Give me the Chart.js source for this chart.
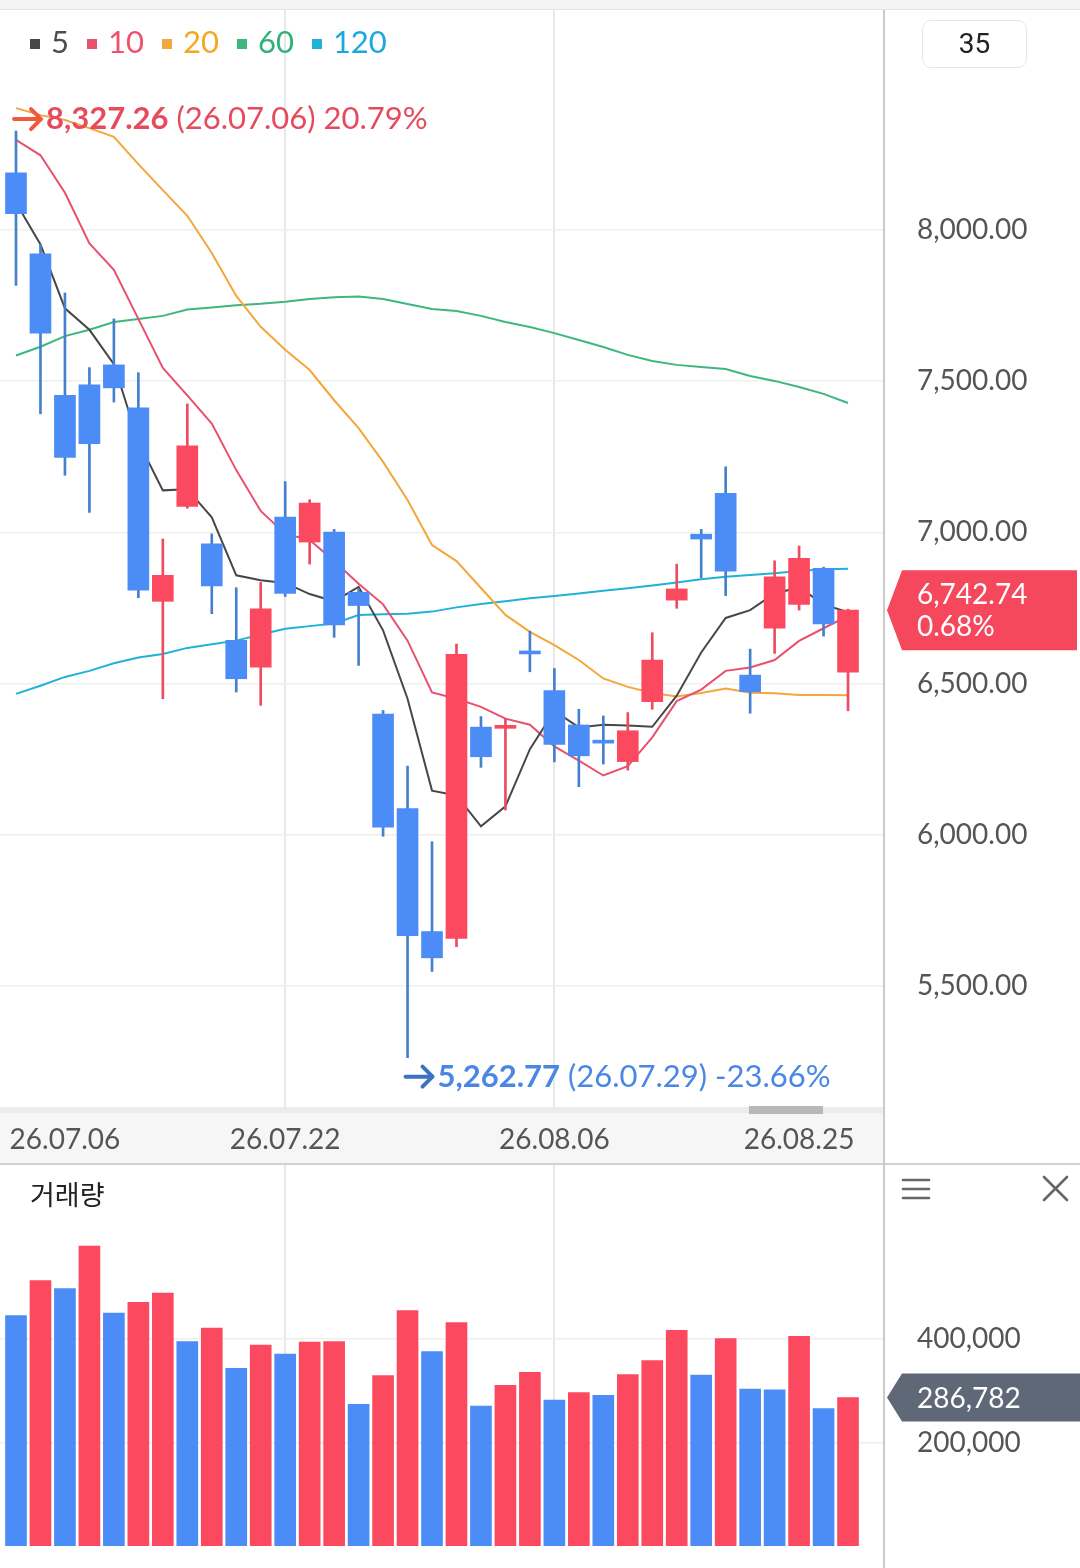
<!DOCTYPE html>
<html>
<head>
<meta charset="utf-8">
<script src="https://cdn.jsdelivr.net/npm/chart.js@4"></script>
<style>
  html, body { margin: 0; padding: 0; background: #fff; }
  body { width: 1080px; height: 1568px; position: relative; overflow: hidden; font-family: Lato, sans-serif; }
  .abs { position: absolute; }
  #topbar { left: 0; top: 0; width: 1080px; height: 9px; background: #f4f4f4; border-bottom: 1px solid #e4e4e4; }
  #track { left: 0; top: 1107px; width: 884px; height: 6px; background: #ececec; }
  #xband { left: 0; top: 1113px; width: 884px; height: 50px; background: #f6f6f6; }
  #thumb { left: 749px; top: 1106px; width: 74px; height: 8px; background: #b8b8b8; z-index: 3; }
  #hsep { left: 0; top: 1163px; width: 1080px; height: 2px; background: #d2d2d2; z-index: 3; }
  #vsep { left: 883px; top: 10px; width: 2px; height: 1558px; background: #cbcbcb; z-index: 3; }
  canvas { position: absolute; left: 0; z-index: 2; }
  #priceCanvas { top: 10px; }
  #volCanvas { top: 1165px; }
  #legend { left: 30px; top: 21px; font-size: 31px; line-height: 40px; white-space: nowrap; z-index: 4; }
  #legend span.item { margin-right: 18px; }
  #legend span.sq { display: inline-block; width: 10px; height: 10px; margin-right: 11px; vertical-align: 4px; }
  #period { left: 922px; top: 20px; width: 103px; height: 46px; border: 1.5px solid #e6e6e6; border-radius: 9px;
            font: 28px Roboto, sans-serif; color: #222; text-align: center; line-height: 46px; z-index: 4; }
  #volTitle { left: 30px; top: 1174px; font: 27px 'Noto Sans CJK KR', sans-serif; color: #222; z-index: 4; }
  #icons { left: 884px; top: 1165px; z-index: 4; }
</style>
</head>
<body>
<div id="topbar" class="abs"></div>
<div id="track" class="abs"></div>
<div id="xband" class="abs"></div>
<div id="thumb" class="abs"></div>
<div id="hsep" class="abs"></div>
<div id="vsep" class="abs"></div>
<div id="legend" class="abs"></div>
<div id="period" class="abs"></div>
<div id="volTitle" class="abs">거래량</div>
<svg id="icons" class="abs" width="196" height="50">
  <g stroke="#666" stroke-width="2.6" stroke-linecap="round">
    <line x1="19" y1="15" x2="45" y2="15"/>
    <line x1="19" y1="24" x2="45" y2="24"/>
    <line x1="19" y1="33" x2="45" y2="33"/>
    <line x1="160" y1="12" x2="183" y2="35"/>
    <line x1="183" y1="12" x2="160" y2="35"/>
  </g>
</svg>
<canvas id="priceCanvas" width="1080" height="1153"></canvas>
<canvas id="volCanvas" width="1080" height="403"></canvas>

<script>
// ---- data ----
const opens  = [8189, 7921, 7453, 7488, 7554, 7412, 6772, 7086, 6962, 6643, 6554, 7051, 6968, 7001, 6802, 6399, 6087, 5680,
                5657, 6356, 6352, 6604, 6477, 6363, 6307, 6242, 6440, 6776, 6994, 7129, 6528, 6683, 6762, 6881, 6538];
const highs  = [8327.26, 7952, 7792, 7545, 7706, 7528, 6978, 7425, 6995, 6817, 6835, 7168, 7108, 7010, 6813, 6411, 6227, 5977,
                6631, 6391, 6384, 6673, 6550, 6415, 6393, 6404, 6668, 6895, 7010, 7217, 6614, 6906, 6955, 6885, 6746];
const lows   = [7817, 7392, 7189, 7066, 7431, 6784, 6450, 7080, 6731, 6472, 6428, 6788, 6895, 6653, 6560, 5995, 5262.77, 5548,
                5630, 6223, 6082, 6539, 6241, 6159, 6234, 6214, 6415, 6749, 6850, 6791, 6402, 6600, 6743, 6657, 6410];
const closes = [8054, 7659, 7248, 7293, 7478, 6809, 6858, 7286, 6823, 6516, 6747, 6798, 7097, 6694, 6758, 6025, 5666, 5593,
                6597, 6258, 6360, 6598, 6299, 6261, 6303, 6344, 6578, 6813, 6978, 6872, 6473, 6853, 6914, 6697.2, 6742.74];

const volumes = [445000, 512700, 497200, 579700, 450200, 470900, 488900, 394800, 421300, 343400, 388400, 371000, 394200,
                 395000, 273800, 329100, 454700, 375500, 431500, 270500, 310500, 335600, 282100, 296300, 291200, 331000,
                 358100, 416800, 330400, 400600, 303400, 302000, 405200, 265300, 286782];

const ma5   = [8090, 7952, 7741, 7670, 7556, 7300, 7139, 7143, 7050, 6858, 6842, 6833, 6796, 6772, 6820, 6676, 6450, 6146,
               6130, 6028, 6094, 6283, 6410, 6355, 6364, 6361, 6357, 6460, 6603, 6717, 6743, 6798, 6818, 6762, 6736];
const ma10  = [8298, 8247, 8123, 7956, 7868, 7706, 7544, 7453, 7360, 7206, 7071, 6995, 6975, 6905, 6830, 6762, 6642, 6471,
               6450, 6423, 6384, 6364, 6292, 6245, 6196, 6227, 6322, 6442, 6480, 6542, 6553, 6578, 6641, 6683, 6724];
const ma20  = [8403, 8380, 8364, 8337, 8308, 8218, 8132, 8047, 7924, 7782, 7680, 7604, 7537, 7437, 7345, 7233, 7107, 6958,
               6905, 6816, 6727, 6671, 6627, 6578, 6517, 6489, 6469, 6457, 6469, 6484, 6470, 6468, 6462, 6462, 6461];
const ma60  = [7585, 7614, 7649, 7670, 7696, 7706, 7716, 7737, 7744, 7751, 7756, 7763, 7772, 7778, 7780, 7772, 7755, 7739,
               7732, 7716, 7696, 7679, 7659, 7636, 7613, 7587, 7567, 7554, 7547, 7540, 7517, 7501, 7481, 7458, 7428];
const ma120 = [6466, 6493, 6522, 6542, 6567, 6586, 6598, 6618, 6630, 6642, 6662, 6681, 6690, 6699, 6727, 6729, 6731, 6738,
               6752, 6763, 6772, 6782, 6790, 6798, 6807, 6815, 6824, 6834, 6845, 6853, 6859, 6865, 6872, 6878, 6880];

const maNames  = ['5', '10', '20', '60', '120'];
const maSeries = [ma5, ma10, ma20, ma60, ma120];
const maColors = ['#474747', '#e9506d', '#f5a63a', '#3db77e', '#1fb2d8'];
const maText   = ['#4d4d4d', '#f0506e', '#f5a623', '#2fb27a', '#1aa9dc'];

const priceTicks  = [5500, 6000, 6500, 7000, 7500, 8000];
const volumeTicks = [200000, 400000];
const xTickIdx    = [2, 11, 22, 32];
const xTickLabels = ['26.07.06', '26.07.22', '26.08.06', '26.08.25'];
const vGridAt     = [11, 22];
const hiNote = '(26.07.06) 20.79%';
const loNote = '(26.07.29) -23.66%';
const periodCount = 35;

// ---- colours ----
const RED = '#fb4a5f', BLUE = '#4b8cf6', RED_WICK = '#ee4a60', BLUE_WICK = '#4580cd';

Chart.defaults.font.family = 'Lato';

// legend and period box
document.getElementById('legend').innerHTML = maNames.map((n, k) =>
  '<span class="item"><span class="sq" style="background:' + maColors[k] + '"></span>' +
  '<span style="color:' + maText[k] + '">' + n + '</span></span>').join('');
document.getElementById('period').textContent = periodCount;

const fmt2 = v => v.toLocaleString('en-US', { minimumFractionDigits: 2, maximumFractionDigits: 2 });
const idx = closes.map((_, i) => i);

function badge(ctx, yc, half, right, color, lines) {
  ctx.save();
  ctx.fillStyle = color;
  ctx.beginPath();
  ctx.moveTo(887, yc);
  ctx.lineTo(902, yc - half);
  ctx.lineTo(right, yc - half);
  ctx.lineTo(right, yc + half);
  ctx.lineTo(902, yc + half);
  ctx.closePath();
  ctx.fill();
  ctx.fillStyle = '#fff';
  ctx.font = '28px Lato';
  ctx.textAlign = 'left';
  ctx.textBaseline = 'middle';
  const lh = 32;
  const y0 = yc + 1 - (lines.length - 1) * lh / 2;
  lines.forEach((t, k) => ctx.fillText(t, 917, y0 + k * lh));
  ctx.restore();
}

function drawNote(ctx, x0, ym, val, note, arrowColor, textColor) {
  ctx.save();
  ctx.strokeStyle = arrowColor;
  ctx.lineWidth = 4;
  ctx.lineCap = 'round';
  ctx.lineJoin = 'round';
  ctx.beginPath();
  ctx.moveTo(x0 + 2, ym);
  ctx.lineTo(x0 + 29, ym);
  ctx.moveTo(x0 + 19, ym - 10);
  ctx.lineTo(x0 + 29, ym);
  ctx.lineTo(x0 + 19, ym + 10);
  ctx.stroke();
  ctx.fillStyle = textColor;
  ctx.textAlign = 'left';
  ctx.textBaseline = 'middle';
  const s = fmt2(val);
  ctx.font = 'bold 31px Lato';
  ctx.fillText(s, x0 + 34, ym);
  const w = ctx.measureText(s).width;
  ctx.font = '31px Lato';
  ctx.fillText(note, x0 + 34 + w + 8, ym);
  ctx.restore();
}

const priceOverlay = {
  id: 'priceOverlay',
  afterDraw(chart) {
    const { ctx, scales: { x, y } } = chart;
    const hiIdx = highs.indexOf(Math.max(...highs));
    const loIdx = lows.indexOf(Math.min(...lows));
    drawNote(ctx, x.getPixelForValue(hiIdx) - 4, y.getPixelForValue(highs[hiIdx]) - 12,
             highs[hiIdx], hiNote, '#ef5a3a', '#e64b5d');
    drawNote(ctx, x.getPixelForValue(loIdx) - 4, y.getPixelForValue(lows[loIdx]) + 19,
             lows[loIdx], loNote, '#3b72c2', '#4a87e5');
    const last = closes.length - 1;
    const chg = (closes[last] - closes[last - 1]) / closes[last - 1] * 100;
    badge(ctx, y.getPixelForValue(closes[last]), 40, 1077, '#f5485d', [fmt2(closes[last]), chg.toFixed(2) + '%']);
  }
};

const volumeOverlay = {
  id: 'volumeOverlay',
  afterDraw(chart) {
    const { ctx, scales: { y } } = chart;
    const v = volumes[volumes.length - 1];
    badge(ctx, y.getPixelForValue(v), 24, 1080, '#5e6876', [v.toLocaleString('en-US')]);
  }
};

function xScale(showLabels) {
  return {
    type: 'linear',
    min: -0.654,
    max: 35.47,
    offset: false,
    bounds: 'data',
    border: { display: false },
    grid: {
      offset: false,
      drawTicks: false,
      lineWidth: 2,
      color: c => vGridAt.includes(c.tick && c.tick.value) ? '#e8e8e8' : 'rgba(0,0,0,0)'
    },
    afterBuildTicks: s => { s.ticks = (showLabels ? xTickIdx : vGridAt).map(v => ({ value: v })); },
    afterFit: s => { s.height = showLabels ? 55 : 0; s.paddingLeft = 0; s.paddingRight = 0; },
    ticks: {
      display: showLabels,
      autoSkip: false,
      maxRotation: 0,
      padding: 15,
      color: '#555',
      font: { size: 28 },
      callback: v => xTickLabels[xTickIdx.indexOf(v)]
    }
  };
}

function yScale(min, max, ticks, fmt) {
  return {
    position: 'right',
    min: min,
    max: max,
    border: { display: false },
    grid: { drawTicks: false, color: '#efefef', lineWidth: 1.5 },
    afterBuildTicks: s => { s.ticks = ticks.map(v => ({ value: v })); },
    afterFit: s => { s.width = 196; s.paddingTop = 0; s.paddingBottom = 0; },
    ticks: { padding: 33, color: '#555', font: { size: 28 }, callback: fmt }
  };
}

const candleColor = (c, up, down) => closes[c.dataIndex] >= opens[c.dataIndex] ? up : down;

new Chart(document.getElementById('priceCanvas'), {
  type: 'bar',
  data: {
    datasets: [
      {
        label: 'wick',
        data: idx.map(i => ({ x: i, y: [lows[i], highs[i]] })),
        backgroundColor: c => candleColor(c, RED_WICK, BLUE_WICK),
        barThickness: 2,
        grouped: false,
        order: 1
      },
      {
        label: 'body',
        data: idx.map(i => ({ x: i, y: [opens[i], closes[i]] })),
        backgroundColor: c => candleColor(c, RED, BLUE),
        barThickness: 21,
        minBarLength: 3,
        grouped: false,
        order: 0
      }
    ].concat(maSeries.map((s, k) => ({
      type: 'line',
      label: 'MA' + maNames[k],
      data: s.map((v, i) => ({ x: i, y: v })),
      borderColor: maColors[k],
      borderWidth: 2,
      pointRadius: 0,
      tension: 0,
      fill: false,
      order: 2 + k
    })))
  },
  options: {
    responsive: false,
    animation: false,
    layout: { padding: 0 },
    plugins: { legend: { display: false }, tooltip: { enabled: false } },
    scales: {
      x: xScale(true),
      y: yScale(5096.4, 8727.6, priceTicks, v => fmt2(v))
    }
  },
  plugins: [priceOverlay]
});

new Chart(document.getElementById('volCanvas'), {
  type: 'bar',
  data: {
    datasets: [{
      label: 'volume',
      data: idx.map(i => ({ x: i, y: volumes[i] })),
      backgroundColor: c => (c.dataIndex > 0 && volumes[c.dataIndex] >= volumes[c.dataIndex - 1]) ? RED : BLUE,
      barThickness: 21,
      grouped: false
    }]
  },
  options: {
    responsive: false,
    animation: false,
    layout: { padding: { bottom: 22 } },
    plugins: { legend: { display: false }, tooltip: { enabled: false } },
    scales: {
      x: xScale(false),
      y: yScale(0, 736200, volumeTicks, v => v.toLocaleString('en-US'))
    }
  },
  plugins: [volumeOverlay]
});
</script>
</body>
</html>
